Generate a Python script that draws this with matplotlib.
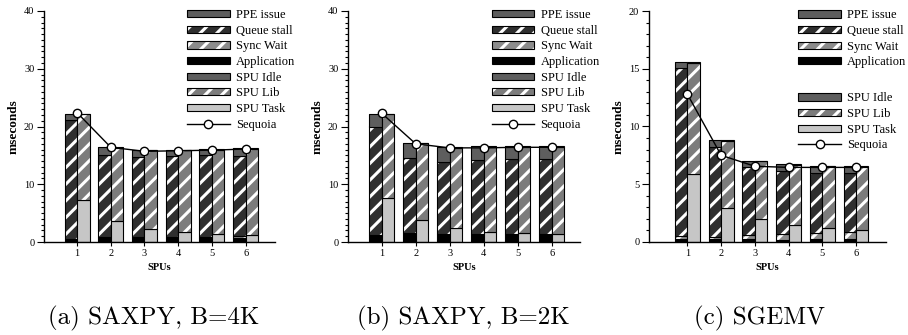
import matplotlib.pyplot as plt
import numpy as np
from matplotlib.patches import Patch
from matplotlib.lines import Line2D
from matplotlib.ticker import MultipleLocator

plt.rcParams['font.family'] = ['Liberation Serif', 'DejaVu Serif']
plt.rcParams['hatch.linewidth'] = 2.2

spus = [1, 2, 3, 4, 5, 6]

# (a) SAXPY, B=4K -- segment heights in ms
saxpy4k_app = [0.6, 0.8, 0.7, 0.7, 0.7, 0.7]
saxpy4k_sync = [0.0, 0.1, 0.1, 0.2, 0.2, 0.3]
saxpy4k_queue = [20.5, 14.2, 14.0, 14.0, 14.1, 13.9]
saxpy4k_ppe = [1.1, 1.3, 1.2, 1.1, 1.1, 1.3]
saxpy4k_task = [7.3, 3.6, 2.3, 1.8, 1.4, 1.2]
saxpy4k_lib = [14.8, 12.7, 13.6, 14.1, 14.6, 14.9]
saxpy4k_idle = [0.1, 0.1, 0.1, 0.1, 0.1, 0.1]
saxpy4k_seq = [22.4, 16.4, 15.7, 15.8, 15.9, 16.1]

# (b) SAXPY, B=2K
saxpy2k_app = [1.2, 1.5, 1.3, 1.3, 1.3, 1.3]
saxpy2k_sync = [0.0, 0.0, 0.0, 0.0, 0.0, 0.0]
saxpy2k_queue = [18.8, 13.1, 12.6, 12.9, 13.0, 13.0]
saxpy2k_ppe = [2.2, 2.6, 2.5, 2.4, 2.3, 2.3]
saxpy2k_task = [7.7, 3.8, 2.4, 1.8, 1.5, 1.3]
saxpy2k_lib = [14.4, 13.3, 13.9, 14.7, 15.0, 15.2]
saxpy2k_idle = [0.1, 0.1, 0.1, 0.1, 0.1, 0.1]
saxpy2k_seq = [22.3, 17.0, 16.3, 16.3, 16.4, 16.4]

# (c) SGEMV
sgemv_app = [0.25, 0.2, 0.2, 0.15, 0.2, 0.2]
sgemv_sync = [0.25, 0.25, 0.35, 0.5, 0.55, 0.65]
sgemv_queue = [14.6, 7.8, 5.95, 5.5, 5.25, 5.15]
sgemv_ppe = [0.5, 0.58, 0.53, 0.57, 0.6, 0.55]
sgemv_task = [5.85, 2.9, 1.95, 1.45, 1.15, 1.0]
sgemv_lib = [9.7, 5.88, 5.03, 5.2, 5.4, 5.5]
sgemv_idle = [0.05, 0.05, 0.05, 0.07, 0.05, 0.05]
sgemv_seq = [12.8, 7.5, 6.55, 6.45, 6.45, 6.45]

captions = ['(a) SAXPY, B=4K', '(b) SAXPY, B=2K', '(c) SGEMV']

styles = {
    'PPE issue': ('#5e5e5e', None),
    'Queue stall': ('#2f2f2f', '//'),
    'Sync Wait': ('#8c8c8c', '//'),
    'Application': ('black', None),
    'SPU Idle': ('#5e5e5e', None),
    'SPU Lib': ('#7c7c7c', '//'),
    'SPU Task': ('#c6c6c6', None),
}

width = 0.37


def stack(ax, x, layers, names, align_left):
    bottom = np.zeros(len(x))
    xs = np.array(x) - width if align_left else np.array(x)
    for vals, name in zip(layers, names):
        face, hatch = styles[name]
        ax.bar(xs, vals, width, bottom=bottom, align='edge', color=face,
               hatch=hatch, edgecolor='white', linewidth=0)
        ax.bar(xs, vals, width, bottom=bottom, align='edge', fill=False,
               edgecolor='black', linewidth=0.8)
        bottom += np.array(vals)


def handle(name):
    face, hatch = styles[name]
    return (Patch(facecolor=face, hatch=hatch, edgecolor='white', linewidth=0),
            Patch(fill=False, edgecolor='black', linewidth=0.8))


seq_handle = Line2D([], [], color='black', lw=1, marker='o', ms=6,
                    mfc='white', mec='black', mew=1)

panels = [
    (saxpy4k_app, saxpy4k_sync, saxpy4k_queue, saxpy4k_ppe,
     saxpy4k_task, saxpy4k_lib, saxpy4k_idle, saxpy4k_seq),
    (saxpy2k_app, saxpy2k_sync, saxpy2k_queue, saxpy2k_ppe,
     saxpy2k_task, saxpy2k_lib, saxpy2k_idle, saxpy2k_seq),
    (sgemv_app, sgemv_sync, sgemv_queue, sgemv_ppe,
     sgemv_task, sgemv_lib, sgemv_idle, sgemv_seq),
]
rects = [
    [44 / 908, 93 / 335, 231 / 908, 231 / 335],
    [348 / 908, 93 / 335, 232 / 908, 231 / 335],
    [649 / 908, 93.3 / 335, 237 / 908, 230.4 / 335],
]
xlims = [(0.02, 6.87), (0.01, 6.83), (-0.14, 6.89)]
ylims = [40, 40, 20]
cap_x = [154, 463, 760]

fig = plt.figure(figsize=(9.08, 3.35), dpi=100)

ppe_names = ['Application', 'Sync Wait', 'Queue stall', 'PPE issue']
spu_names = ['SPU Task', 'SPU Lib', 'SPU Idle']
legend_order = ['PPE issue', 'Queue stall', 'Sync Wait', 'Application',
                'SPU Idle', 'SPU Lib', 'SPU Task']
leg_kw = dict(frameon=False, fontsize=9, handlelength=3.4, handleheight=0.5,
              handletextpad=0.5, labelspacing=0.29, borderpad=0,
              borderaxespad=0, loc='upper left')

for i, (app, sync, queue, ppe, task, lib, idle, seq) in enumerate(panels):
    ax = fig.add_axes(rects[i])
    stack(ax, spus, [app, sync, queue, ppe], ppe_names, True)
    stack(ax, spus, [task, lib, idle], spu_names, False)
    ax.plot(spus, seq, color='black', lw=1, marker='o', ms=6,
            mfc='white', mec='black', mew=1, zorder=5, clip_on=False)

    ax.set_xlim(*xlims[i])
    ax.set_ylim(0, ylims[i])
    ax.set_xticks(spus)
    major = 10 if ylims[i] == 40 else 5
    ax.yaxis.set_major_locator(MultipleLocator(major))
    ax.yaxis.set_minor_locator(MultipleLocator(1))
    ax.tick_params(axis='y', which='major', length=5, width=0.8, labelsize=7.5, pad=2)
    ax.tick_params(axis='y', which='minor', length=2.5, width=0.8)
    ax.tick_params(axis='x', length=3, width=0.8, labelsize=7.5, pad=2)
    for side in ['top', 'right']:
        ax.spines[side].set_visible(False)
    for side in ['left', 'bottom']:
        ax.spines[side].set_linewidth(1)
    ax.set_ylabel('mseconds', fontsize=9.5, fontweight='bold', labelpad=3)
    ax.set_xlabel('SPUs', fontsize=7.5, fontweight='bold', labelpad=4)

    if i < 2:
        handles = [handle(n) for n in legend_order] + [seq_handle]
        ax.legend(handles, legend_order + ['Sequoia'],
                  bbox_to_anchor=(0.62, 1.008), **leg_kw)
    else:
        top = legend_order[:4]
        bot = legend_order[4:]
        leg1 = ax.legend([handle(n) for n in top], top,
                         bbox_to_anchor=(0.63, 1.008), **leg_kw)
        ax.add_artist(leg1)
        ax.legend([handle(n) for n in bot] + [seq_handle], bot + ['Sequoia'],
                  bbox_to_anchor=(0.63, 0.648), **leg_kw)

    fig.text(cap_x[i] / 908, 1 - 318 / 335, captions[i], family='cmr10',
             fontsize=18, ha='center', va='center')

fig.savefig('out.png', dpi=100)
